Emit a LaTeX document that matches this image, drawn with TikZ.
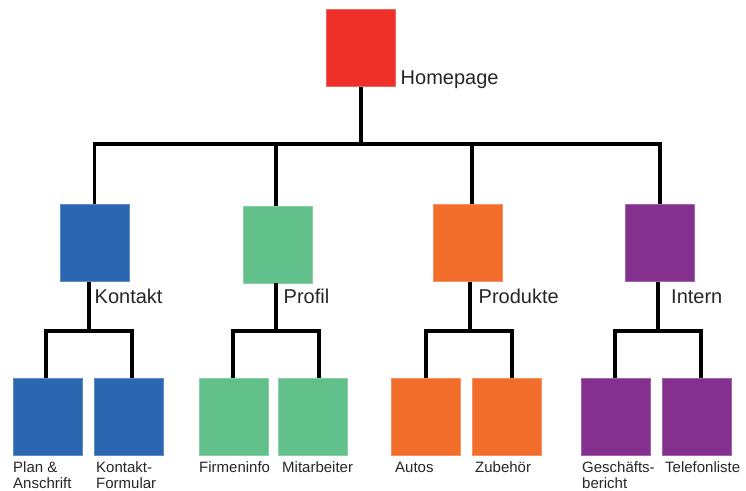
\documentclass[tikz,border=0pt]{standalone}
\usepackage{fontspec}
\setmainfont{Liberation Sans}
\definecolor{cred}{HTML}{EE3029}
\definecolor{cblue}{HTML}{2B66B0}
\definecolor{cgreen}{HTML}{62C08A}
\definecolor{corange}{HTML}{F26D2A}
\definecolor{cpurple}{HTML}{84308F}
\begin{document}
\begin{tikzpicture}[x=1pt,y=-1pt,
  pagebox/.style={rectangle, inner sep=0pt, minimum width=69pt, minimum height=77pt, draw=#1!75!white, line width=0.6pt, fill=#1},
  biglabel/.style={anchor=base west, inner sep=0pt, font=\fontsize{20}{24}\selectfont, text=black!85},
  smalllabel/.style={anchor=base west, inner sep=0pt, align=left, font=\fontsize{15}{16}\selectfont, text=black!85},
  conn/.style={draw=black, line width=3.2pt, line join=miter}]
\useasboundingbox (0,0) rectangle (746,490);
% level 1
\node[pagebox=cred] (home) at (360.5,48) {};
\node[biglabel] (homel) at (400.5,84) {Homepage};
% level 2
\node[pagebox=cblue] (kontakt) at (94.5,243) {};
\node[pagebox=cgreen] (profil) at (277.5,244.5) {};
\node[pagebox=corange] (produkte) at (468,243) {};
\node[pagebox=cpurple] (intern) at (659.5,243) {};
\node[biglabel] (kontaktl) at (94.5,303) {Kontakt};
\node[biglabel] (profill) at (283.5,303) {Profil};
\node[biglabel] (produktel) at (478.5,303) {Produkte};
\node[biglabel] (internl) at (671,303) {Intern};
% level 3
\node[pagebox=cblue] (plan) at (47.5,416.5) {};
\node[pagebox=cblue] (formular) at (128.5,416.5) {};
\node[pagebox=cgreen] (firmeninfo) at (233.5,416.5) {};
\node[pagebox=cgreen] (mitarbeiter) at (313,416.5) {};
\node[pagebox=corange] (autos) at (426,416.5) {};
\node[pagebox=corange] (zubehoer) at (506.5,416.5) {};
\node[pagebox=cpurple] (bericht) at (615.5,416.5) {};
\node[pagebox=cpurple] (telefon) at (696.5,416.5) {};
\node[smalllabel] (planl) at (13,488) {Plan \&\\Anschrift};
\node[smalllabel] (formularl) at (96,488) {Kontakt-\\Formular};
\node[smalllabel] (firmeninfol) at (199,472) {Firmeninfo};
\node[smalllabel] (mitarbeiterl) at (282,472) {Mitarbeiter};
\node[smalllabel] (autosl) at (395,472) {Autos};
\node[smalllabel] (zubehoerl) at (475,472) {Zubehör};
\node[smalllabel] (berichtl) at (582,488) {Geschäfts-\\bericht};
\node[smalllabel] (telefonl) at (665,472) {Telefonliste};
% junctions
\coordinate (hj) at (361,144);
\coordinate (kj) at (89,331);
\coordinate (pj) at (276,331);
\coordinate (dj) at (470,331);
\coordinate (ij) at (658,331);
% connectors level 1 -> 2
\draw[conn] ([xshift=0.5pt]home.south) -- (hj);
\draw[conn] (hj) -| (kontakt.north);
\draw[conn] (hj) -| ([xshift=-1.5pt]profil.north);
\draw[conn] (hj) -| ([xshift=4pt]produkte.north);
\draw[conn] (hj) -| ([xshift=0.5pt]intern.north);
% connectors level 2 -> 3
\draw[conn] ([xshift=-5.5pt]kontakt.south) -- (kj);
\draw[conn] (kj) -| ([xshift=-1.5pt]plan.north);
\draw[conn] (kj) -| ([xshift=3.5pt]formular.north);
\draw[conn] ([xshift=-1.5pt]profil.south) -- (pj);
\draw[conn] (pj) -| ([xshift=-0.5pt]firmeninfo.north);
\draw[conn] (pj) -| ([xshift=6pt]mitarbeiter.north);
\draw[conn] ([xshift=2pt]produkte.south) -- (dj);
\draw[conn] (dj) -| (autos.north);
\draw[conn] (dj) -| ([xshift=5.5pt]zubehoer.north);
\draw[conn] ([xshift=-1.5pt]intern.south) -- (ij);
\draw[conn] (ij) -| ([xshift=-0.5pt]bericht.north);
\draw[conn] (ij) -| ([xshift=4.5pt]telefon.north);
\end{tikzpicture}
\end{document}
